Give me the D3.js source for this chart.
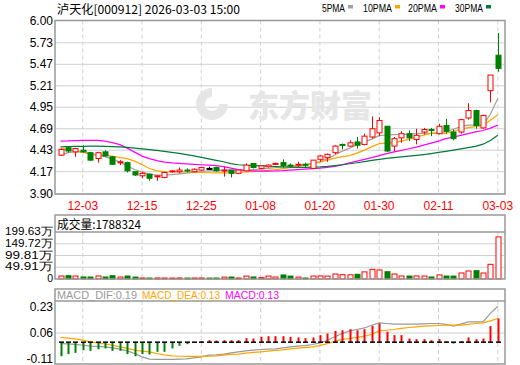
<!DOCTYPE html>
<html>
<head>
<meta charset="utf-8">
<title>泸天化 K线</title>
<script src="https://cdn.jsdelivr.net/npm/d3@7/dist/d3.min.js"></script>
<style>
    body { margin: 0; background: #fff; }
    text { font-family: "Liberation Sans", Arial, sans-serif; }
    .cjk { font-family: "Noto Sans CJK SC", sans-serif; }
</style>
</head>
<body>
<svg id="chart" width="520" height="365"></svg>
<script>
// trading days shown
const dates = [
    "11-28","12-01","12-02","12-03","12-04","12-05","12-08","12-09","12-10","12-11",
    "12-12","12-15","12-16","12-17","12-18","12-19","12-22","12-23","12-24","12-25",
    "12-26","12-29","12-30","12-31","01-05","01-06","01-07","01-08","01-09","01-12",
    "01-13","01-14","01-15","01-16","01-19","01-20","01-21","01-22","01-23","01-26",
    "01-27","01-28","01-29","01-30","02-02","02-03","02-04","02-05","02-06","02-09",
    "02-10","02-11","02-12","02-13","02-24","02-25","02-26","02-27","03-02","03-03"
];
const labelDates = ["12-03","12-15","12-25","01-08","01-20","01-30","02-11","03-03"];

const opens = [
    4.37,4.46,4.41,4.43,4.40,4.33,4.41,4.35,4.28,4.28,
    4.17,4.12,4.14,4.11,4.10,4.17,4.17,4.19,4.17,4.19,
    4.21,4.22,4.18,4.19,4.15,4.18,4.27,4.21,4.23,4.26,
    4.28,4.25,4.25,4.26,4.21,4.32,4.34,4.40,4.50,4.48,
    4.53,4.50,4.59,4.64,4.72,4.48,4.58,4.63,4.56,4.65,
    4.68,4.63,4.73,4.65,4.65,4.82,4.91,4.70,5.15,5.58
];
const highs = [
    4.45,4.48,4.46,4.49,4.41,4.41,4.43,4.36,4.31,4.29,
    4.17,4.17,4.15,4.13,4.17,4.19,4.22,4.21,4.21,4.23,
    4.23,4.23,4.23,4.19,4.19,4.27,4.27,4.25,4.26,4.28,
    4.32,4.27,4.29,4.28,4.31,4.37,4.39,4.49,4.51,4.55,
    4.59,4.63,4.84,4.83,4.72,4.59,4.66,4.67,4.69,4.70,
    4.70,4.75,4.81,4.68,4.81,5.00,4.92,4.86,5.34,5.85
];
const lows = [
    4.36,4.40,4.35,4.40,4.30,4.28,4.35,4.25,4.25,4.16,
    4.12,4.09,4.06,4.06,4.09,4.16,4.15,4.16,4.16,4.18,
    4.19,4.17,4.11,4.10,4.14,4.17,4.21,4.20,4.22,4.25,
    4.22,4.22,4.23,4.22,4.20,4.29,4.29,4.38,4.44,4.47,
    4.45,4.49,4.57,4.60,4.41,4.42,4.52,4.54,4.50,4.62,
    4.60,4.62,4.63,4.55,4.63,4.80,4.69,4.69,5.01,5.38
];
const closes = [
    4.44,4.42,4.45,4.41,4.31,4.40,4.36,4.26,4.29,4.18,
    4.13,4.15,4.09,4.12,4.16,4.18,4.19,4.18,4.20,4.22,
    4.21,4.18,4.19,4.15,4.19,4.25,4.22,4.24,4.25,4.27,
    4.245,4.24,4.26,4.25,4.31,4.36,4.38,4.48,4.49,4.52,
    4.49,4.60,4.69,4.79,4.42,4.57,4.63,4.58,4.61,4.68,
    4.67,4.72,4.66,4.57,4.80,4.91,4.73,4.85,5.34,5.42
];

const ma5 = [
    4.371,4.401,4.413,4.407,4.391,4.371,4.353,4.322,4.286,4.238,
    4.196,4.166,4.141,4.129,4.129,4.135,4.144,4.153,4.162,4.172,
    4.180,4.187,4.190,4.190,4.187,4.190,4.196,4.202,4.210,4.220,
    4.229,4.236,4.244,4.256,4.271,4.292,4.328,4.371,4.419,4.455,
    4.497,4.534,4.564,4.606,4.614,4.618,4.620,4.624,4.630,4.633,
    4.636,4.642,4.654,4.684,4.715,4.733,4.733,4.733,4.865,5.055
];
const ma10 = [
    4.452,4.437,4.425,4.407,4.383,4.371,4.371,4.359,4.341,4.328,
    4.298,4.256,4.208,4.180,4.172,4.169,4.168,4.166,4.163,4.160,
    4.157,4.156,4.156,4.157,4.160,4.166,4.172,4.178,4.186,4.196,
    4.208,4.220,4.232,4.250,4.268,4.286,4.310,4.334,4.353,4.365,
    4.395,4.431,4.473,4.509,4.516,4.522,4.540,4.564,4.588,4.612,
    4.633,4.634,4.633,4.660,4.684,4.703,4.715,4.727,4.793,4.859
];
const ma20 = [
    4.540,4.542,4.546,4.548,4.549,4.549,4.540,4.522,4.497,4.455,
    4.407,4.359,4.328,4.304,4.286,4.277,4.271,4.264,4.258,4.254,
    4.250,4.244,4.232,4.214,4.196,4.186,4.180,4.178,4.178,4.180,
    4.184,4.190,4.196,4.202,4.208,4.214,4.222,4.234,4.252,4.277,
    4.298,4.320,4.341,4.365,4.389,4.409,4.429,4.448,4.467,4.491,
    4.516,4.540,4.570,4.590,4.610,4.630,4.651,4.669,4.697,4.733
];
const ma30 = [
    4.471,4.473,4.476,4.477,4.479,4.479,4.477,4.473,4.470,4.464,
    4.455,4.446,4.437,4.427,4.415,4.403,4.391,4.377,4.361,4.343,
    4.325,4.307,4.290,4.268,4.254,4.248,4.244,4.240,4.237,4.233,
    4.228,4.226,4.223,4.223,4.226,4.228,4.234,4.244,4.254,4.266,
    4.278,4.292,4.307,4.320,4.331,4.341,4.350,4.359,4.367,4.377,
    4.389,4.403,4.417,4.431,4.446,4.461,4.477,4.503,4.548,4.612
];

// volume, 万股
const volumes = [
    12.7,14.1,12.5,8.6,8.4,12.8,8.5,14.0,8.3,12.6,
    8.2,4.3,4.1,4.4,4.2,4.0,4.3,4.1,4.2,4.4,
    4.0,4.2,8.1,8.4,4.3,12.3,8.6,6.0,12.5,8.4,
    17.1,12.4,8.2,4.3,12.6,12.9,12.4,21.2,18.3,17.8,
    20.1,30.2,41.0,38.4,31.0,21.3,12.8,12.6,12.9,12.5,
    8.6,17.2,12.7,12.4,25.6,34.1,35.3,25.4,62.4,178.83
];

const dif = [
    -0.009,-0.011,-0.015,-0.020,-0.026,-0.028,-0.031,-0.037,-0.046,-0.057,
    -0.074,-0.096,-0.111,-0.113,-0.113,-0.113,-0.111,-0.109,-0.103,-0.096,
    -0.085,-0.083,-0.078,-0.070,-0.063,-0.057,-0.052,-0.048,-0.046,-0.044,
    -0.037,-0.031,-0.026,-0.022,-0.015,-0.005,0.013,0.035,0.057,0.074,
    0.083,0.093,0.111,0.126,0.122,0.118,0.118,0.118,0.118,0.120,
    0.122,0.122,0.116,0.105,0.118,0.133,0.133,0.133,0.188,0.235
];
const dea = [
    0.031,0.026,0.022,0.013,0.002,-0.005,-0.011,-0.020,-0.031,-0.041,
    -0.052,-0.059,-0.063,-0.074,-0.083,-0.090,-0.092,-0.093,-0.093,-0.093,
    -0.092,-0.090,-0.085,-0.080,-0.078,-0.072,-0.067,-0.063,-0.059,-0.054,
    -0.050,-0.044,-0.039,-0.035,-0.031,-0.022,-0.009,0.005,0.018,0.024,
    0.031,0.039,0.052,0.074,0.078,0.083,0.090,0.096,0.100,0.105,
    0.107,0.109,0.111,0.111,0.111,0.116,0.122,0.126,0.139,0.155
];
const macd = [
    -0.092,-0.078,-0.070,-0.052,-0.057,-0.046,-0.041,-0.057,-0.057,-0.078,
    -0.092,-0.078,-0.080,-0.063,-0.063,-0.041,-0.024,-0.013,-0.004,0.007,
    0.013,0.011,0.013,0.013,0.013,0.026,0.024,0.035,0.039,0.039,
    0.039,0.035,0.031,0.026,0.031,0.046,0.057,0.074,0.078,0.085,
    0.078,0.085,0.107,0.122,0.068,0.046,0.046,0.024,0.020,0.020,
    0.013,0.020,0.007,-0.009,0.007,0.031,0.020,0.024,0.105,0.155
];

const priceTicks = [3.90, 4.17, 4.43, 4.69, 4.95, 5.21, 5.47, 5.73, 6.00];
const volTicks = [0, 49.91, 99.81, 149.72, 199.63];
const macdTicks = [0.23, 0.06, -0.11];

const title = "泸天化[000912] 2026-03-03 15:00";
const volHeader = "成交量:1788324";
const maNames = ["5PMA", "10PMA", "20PMA", "30PMA"];
const maColors = ["#a0a0a0", "#ffa500", "#ff00ff", "#007a3a"];
const macdNames = ["MACD_DIF:0.19", "MACD_DEA:0.13", "MACD:0.13"];
const macdColors = ["#999999", "#ffa500", "#ff00ff"];

const RED = "#ff0000", GREEN = "#008000", BORDER = "#999", GRID = "#d0d0d0";
const left = 55, right = 505;

const svg = d3.select("#chart");

const x = d3.scalePoint().domain(dates).range([60.5, 497.8]);
const yP = d3.scaleLinear().domain([3.90, 6.00]).range([194, 20.5]);
const yV = d3.scaleLinear().domain([0, 199.63]).range([279, 232]);
const yM = d3.scaleLinear().domain([-0.11, 0.06]).range([359, 333]);

const idx = d3.range(dates.length);

// panel frame helper
function panel(top, bottom) {
    svg.append("rect")
        .attr("x", left).attr("y", top)
        .attr("width", right - left).attr("height", bottom - top)
        .attr("fill", "none").attr("stroke", BORDER).attr("stroke-width", 1.5);
}
function vgrid(top, bottom) {
    svg.append("g").selectAll("line")
        .data(labelDates).enter().append("line")
        .attr("x1", d => x(d)).attr("x2", d => x(d))
        .attr("y1", top).attr("y2", bottom)
        .attr("stroke", GRID).attr("stroke-dasharray", "4,3");
}

// ---------- main panel ----------
svg.append("g").selectAll("line")
    .data(priceTicks).enter().append("line")
    .attr("x1", left).attr("x2", right)
    .attr("y1", d => yP(d)).attr("y2", d => yP(d))
    .attr("stroke", GRID);
vgrid(20.5, 194);

// watermark
const wm = svg.append("g").attr("fill", "#e6e6e6");
wm.append("path")
    .attr("d", "M212,88 a16,16 0 1,0 16,16 l-9,0 a7,7 0 1,1 -7,-7 z")
    .attr("fill", "#e6e6e6");
wm.append("text").attr("class", "cjk")
    .attr("x", 248).attr("y", 117)
    .attr("font-size", 31).attr("font-weight", 900)
    .text("东方财富");

// moving averages
[ma5, ma10, ma20, ma30].forEach((arr, k) => {
    svg.append("path")
        .datum(idx)
        .attr("fill", "none")
        .attr("stroke", maColors[k])
        .attr("stroke-width", 1.2)
        .attr("d", d3.line().x(i => x(dates[i])).y(i => yP(arr[i])));
});

// candles
const candleColor = i => closes[i] > opens[i] ? RED : (closes[i] < opens[i] ? GREEN : "#000");
const cg = svg.append("g");
cg.selectAll("line.wick").data(idx).enter().append("line")
    .attr("x1", i => Math.round(x(dates[i])) + 0.5).attr("x2", i => Math.round(x(dates[i])) + 0.5)
    .attr("y1", i => yP(highs[i])).attr("y2", i => yP(lows[i]))
    .attr("stroke", candleColor);
cg.selectAll("rect.body").data(idx).enter().append("rect")
    .attr("x", i => Math.round(x(dates[i])) - 2)
    .attr("y", i => yP(Math.max(opens[i], closes[i])))
    .attr("width", 5)
    .attr("height", i => Math.max(1, yP(Math.min(opens[i], closes[i])) - yP(Math.max(opens[i], closes[i]))))
    .attr("fill", i => closes[i] > opens[i] ? "#fff" : candleColor(i))
    .attr("stroke", candleColor)
    .attr("stroke-width", 1);

panel(20.5, 194);

// price labels
svg.append("g").selectAll("text")
    .data(priceTicks).enter().append("text")
    .attr("x", 53).attr("y", d => yP(d)).attr("dy", "0.35em")
    .attr("text-anchor", "end").attr("font-size", 12).attr("fill", "#000")
    .text(d => d.toFixed(2));

// date labels
svg.append("g").selectAll("text")
    .data(labelDates).enter().append("text")
    .attr("x", d => x(d)).attr("y", 209.5)
    .attr("text-anchor", "middle").attr("font-size", 12).attr("fill", RED)
    .text(d => d);

// title and legend
svg.append("text").attr("class", "cjk")
    .attr("x", 57).attr("y", 14).attr("font-size", 12)
    .attr("textLength", 183).attr("lengthAdjust", "spacingAndGlyphs")
    .text(title);
const legX = [322, 363, 408, 455];
const legW = [23, 29, 29, 28];
maNames.forEach((n, k) => {
    svg.append("text").attr("x", legX[k]).attr("y", 12).attr("font-size", 11)
        .attr("textLength", legW[k]).attr("lengthAdjust", "spacingAndGlyphs")
        .text(n);
    svg.append("rect").attr("x", legX[k] + legW[k] + 3).attr("y", 5)
        .attr("width", 5).attr("height", 3.5).attr("fill", maColors[k]);
});

// ---------- volume panel ----------
svg.append("g").selectAll("line")
    .data(volTicks.slice(1, 4)).enter().append("line")
    .attr("x1", left).attr("x2", right)
    .attr("y1", d => yV(d)).attr("y2", d => yV(d))
    .attr("stroke", GRID);
vgrid(232, 279);
const volUp = i => i === 0 ? closes[0] >= opens[0] : closes[i] >= closes[i - 1];
svg.append("g").selectAll("rect").data(idx).enter().append("rect")
    .attr("x", i => Math.round(x(dates[i])) - 2)
    .attr("y", i => yV(volumes[i]))
    .attr("width", 5)
    .attr("height", i => yV(0) - yV(volumes[i]))
    .attr("fill", i => volUp(i) ? "#fff" : GREEN)
    .attr("stroke", i => volUp(i) ? RED : GREEN);
panel(215, 279);
svg.append("line").attr("x1", left).attr("x2", right).attr("y1", 232).attr("y2", 232)
    .attr("stroke", BORDER).attr("stroke-width", 1.5);
svg.append("text").attr("class", "cjk")
    .attr("x", 57).attr("y", 229).attr("font-size", 12)
    .attr("textLength", 84).attr("lengthAdjust", "spacingAndGlyphs")
    .text(volHeader);
svg.append("g").selectAll("text")
    .data(volTicks).enter().append("text")
    .attr("x", 53).attr("y", d => yV(d)).attr("dy", "0.3em")
    .attr("text-anchor", "end").attr("font-size", 10.5).attr("fill", "#000")
    .attr("textLength", d => d === 0 ? null : 48)
    .attr("lengthAdjust", "spacingAndGlyphs")
    .text(d => d === 0 ? "0" : d.toFixed(2) + "万");

// ---------- MACD panel ----------
svg.append("line").attr("x1", left).attr("x2", right)
    .attr("y1", yM(0.06)).attr("y2", yM(0.06)).attr("stroke", GRID);
vgrid(301, 364);
svg.append("path").datum(idx).attr("fill", "none").attr("stroke", macdColors[0]).attr("stroke-width", 1.2)
    .attr("d", d3.line().x(i => x(dates[i])).y(i => yM(dif[i])));
svg.append("path").datum(idx).attr("fill", "none").attr("stroke", macdColors[1]).attr("stroke-width", 1.2)
    .attr("d", d3.line().x(i => x(dates[i])).y(i => yM(dea[i])));
svg.append("g").selectAll("line").data(idx).enter().append("line")
    .attr("x1", i => Math.round(x(dates[i])) + 0.5).attr("x2", i => Math.round(x(dates[i])) + 0.5)
    .attr("y1", yM(0)).attr("y2", i => yM(macd[i]))
    .attr("stroke", i => macd[i] >= 0 ? RED : GREEN).attr("stroke-width", 2);
svg.append("g").selectAll("line").data(idx).enter().append("line")
    .attr("x1", i => Math.round(x(dates[i])) - 2).attr("x2", i => Math.round(x(dates[i])) + 3)
    .attr("y1", yM(0)).attr("y2", yM(0))
    .attr("stroke", "#000").attr("stroke-width", 1.5);
panel(289, 364);
svg.append("line").attr("x1", left).attr("x2", right).attr("y1", 301).attr("y2", 301)
    .attr("stroke", BORDER).attr("stroke-width", 1.5);
const mhX = [57, 142, 225], mhW = [80, 78, 54];
macdNames.forEach((n, k) => {
    svg.append("text").attr("x", mhX[k]).attr("y", 299).attr("font-size", 11)
        .attr("fill", macdColors[k])
        .attr("textLength", mhW[k]).attr("lengthAdjust", "spacingAndGlyphs")
        .text(n);
});
svg.append("g").selectAll("text")
    .data(macdTicks).enter().append("text")
    .attr("x", 53).attr("y", d => yM(d)).attr("dy", "0.35em")
    .attr("text-anchor", "end").attr("font-size", 12).attr("fill", "#000")
    .text(d => d.toFixed(2));
</script>
</body>
</html>
